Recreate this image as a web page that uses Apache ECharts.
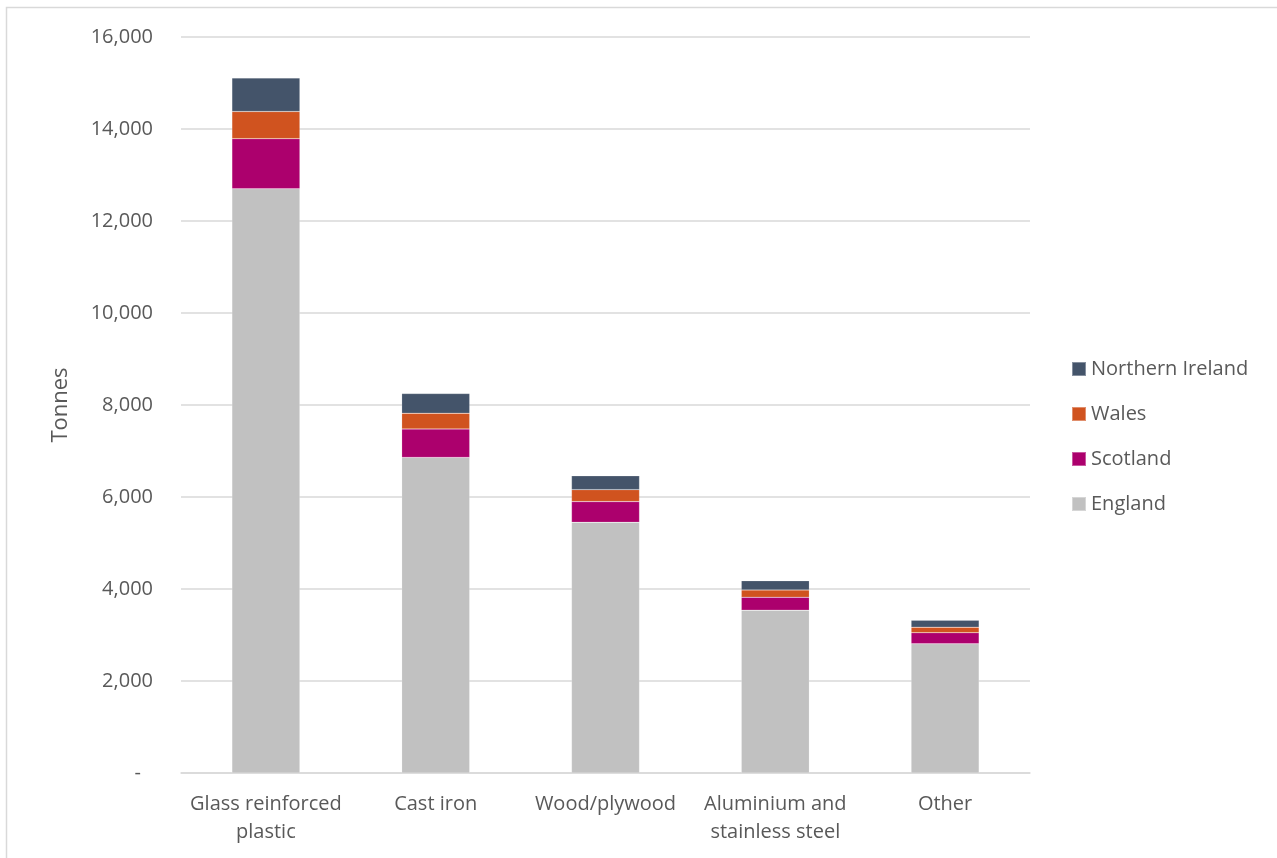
<!DOCTYPE html>
<html>
<head>
<meta charset="utf-8">
<script src="https://cdn.jsdelivr.net/npm/echarts@6/dist/echarts.min.js"></script>
<style>html,body{margin:0;padding:0;background:#fff;}#c{width:1277px;height:858px;}</style>
</head>
<body>
<div id="c"></div>
<script>
const categories = ['Glass reinforced\nplastic', 'Cast iron', 'Wood/plywood', 'Aluminium and\nstainless steel', 'Other'];
const england = [12700, 6860, 5450, 3540, 2810];
const scotland = [1090, 620, 450, 280, 240];
const wales = [590, 340, 260, 160, 120];
const northernIreland = [730, 430, 300, 200, 150];
const yTicks = { min: 0, max: 16000, interval: 2000 };

const FONT = 'Open Sans';
const TXT = '#595959';
const chart = echarts.init(document.getElementById('c'));
const mk = (name, data, color) => ({
  name, type: 'bar', stack: 'total', data, barWidth: 68,
  itemStyle: { color, borderColor: 'rgba(255,255,255,0.35)', borderWidth: 0.5 },
  emphasis: { disabled: true }
});
chart.setOption({
  animation: false,
  textStyle: { fontFamily: FONT },
  graphic: [{
    type: 'rect', shape: { x: 6.5, y: 7.5, width: 1400, height: 1000 },
    style: { fill: 'none', stroke: '#d9d9d9', lineWidth: 1.5 }, silent: true
  }],
  grid: { left: 181, right: 247, top: 37, bottom: 85 },
  legend: {
    orient: 'vertical', left: 1066, top: 354, itemWidth: 14, itemHeight: 14, itemGap: 25, itemTextGap: 6,
    icon: 'rect',
    data: ['Northern Ireland', 'Wales', 'Scotland', 'England'],
    textStyle: { fontFamily: FONT, fontSize: 20, color: TXT }
  },
  xAxis: {
    type: 'category', data: categories,
    axisLine: { lineStyle: { color: '#d9d9d9', width: 1.5 } },
    axisTick: { show: false },
    axisLabel: { fontFamily: FONT, fontSize: 20, color: TXT, margin: 17, lineHeight: 28, interval: 0 }
  },
  yAxis: {
    type: 'value', min: yTicks.min, max: yTicks.max, interval: yTicks.interval,
    name: 'Tonnes', nameLocation: 'middle', nameRotate: 90, nameGap: 109,
    nameTextStyle: { fontFamily: FONT, fontSize: 22, color: TXT },
    axisLine: { show: false }, axisTick: { show: false },
    splitLine: { lineStyle: { color: '#d9d9d9', width: 1.5 } },
    axisLabel: {
      fontFamily: FONT, fontSize: 20, color: TXT, margin: 28,
      formatter: v => v === 0 ? '{d|-}' : v.toLocaleString('en-GB'),
      rich: { d: { fontFamily: FONT, fontSize: 20, color: TXT, padding: [0, 12, 0, 0] } }
    }
  },
  series: [
    mk('England', england, '#c1c1c1'),
    mk('Scotland', scotland, '#ac006d'),
    mk('Wales', wales, '#d0531f'),
    mk('Northern Ireland', northernIreland, '#44546a')
  ]
});
</script>
</body>
</html>
